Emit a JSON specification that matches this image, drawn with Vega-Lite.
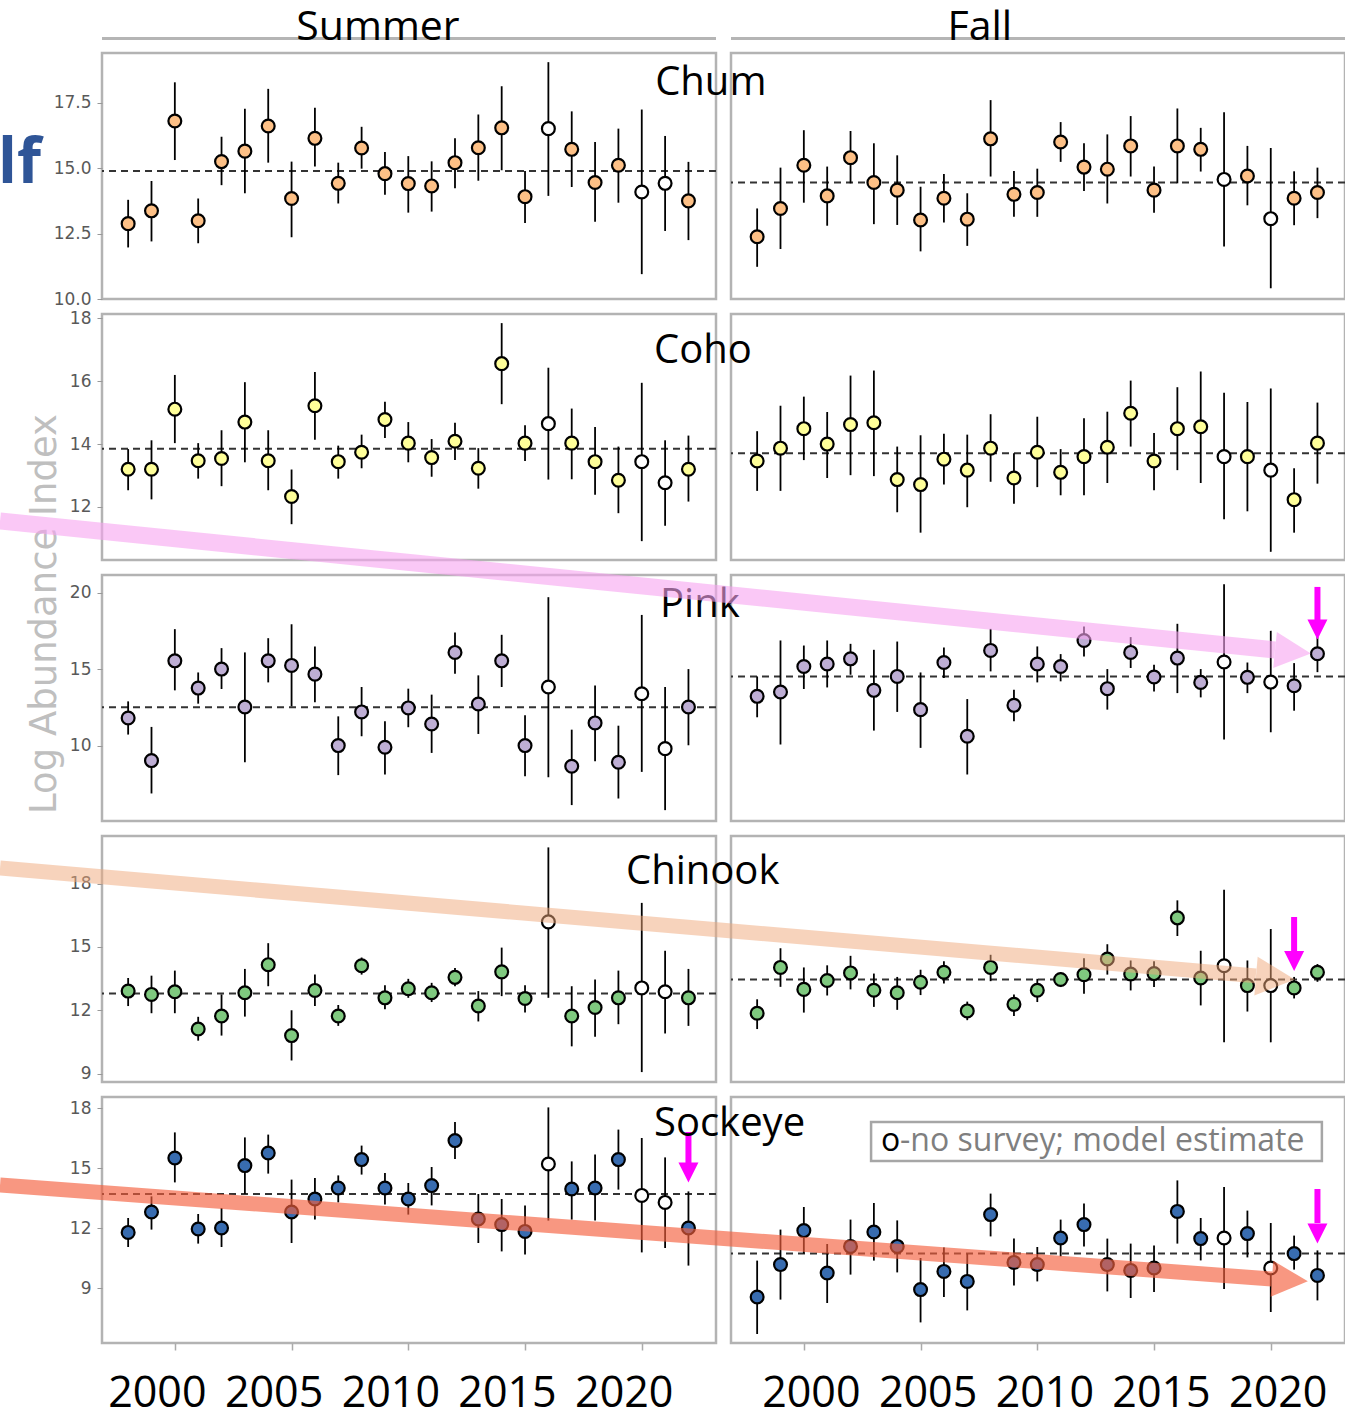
{
"$schema":"https://vega.github.io/schema/vega-lite/v6.json",
"autosize":{"type":"none"},
"padding":{"left":102,"top":53,"right":1243,"bottom":1359},
"background":"white",
"columns":2,
"spacing":{"row":15,"column":15},
"bounds":"flush",
"config":{"view":{"stroke":"#b3b3b3","strokeWidth":2.5},"axis":{"labels":false,"ticks":false,"grid":false,"domain":false,"titleOpacity":0}},
"datasets":{
"one":[{}],
"means":[
{"sp":"Chum","se":"Summer","mean":14.89},{"sp":"Chum","se":"Fall","mean":14.45},
{"sp":"Coho","se":"Summer","mean":13.85},{"sp":"Coho","se":"Fall","mean":13.71},
{"sp":"Pink","se":"Summer","mean":12.50},{"sp":"Pink","se":"Fall","mean":14.52},
{"sp":"Chinook","se":"Summer","mean":12.80},{"sp":"Chinook","se":"Fall","mean":13.46},
{"sp":"Sockeye","se":"Summer","mean":13.70},{"sp":"Sockeye","se":"Fall","mean":10.72}],
"pts":[
{"sp":"Chum","se":"Summer","yr":1998,"v":12.88,"lo":11.97,"hi":13.79,"est":0},
{"sp":"Chum","se":"Summer","yr":1999,"v":13.37,"lo":12.20,"hi":14.51,"est":0},
{"sp":"Chum","se":"Summer","yr":2000,"v":16.80,"lo":15.31,"hi":18.28,"est":0},
{"sp":"Chum","se":"Summer","yr":2001,"v":12.99,"lo":12.13,"hi":13.84,"est":0},
{"sp":"Chum","se":"Summer","yr":2002,"v":15.25,"lo":14.35,"hi":16.20,"est":0},
{"sp":"Chum","se":"Summer","yr":2003,"v":15.65,"lo":14.04,"hi":17.27,"est":0},
{"sp":"Chum","se":"Summer","yr":2004,"v":16.61,"lo":15.21,"hi":18.03,"est":0},
{"sp":"Chum","se":"Summer","yr":2005,"v":13.84,"lo":12.36,"hi":15.25,"est":0},
{"sp":"Chum","se":"Summer","yr":2006,"v":16.14,"lo":15.06,"hi":17.31,"est":0},
{"sp":"Chum","se":"Summer","yr":2007,"v":14.42,"lo":13.65,"hi":15.21,"est":0},
{"sp":"Chum","se":"Summer","yr":2008,"v":15.77,"lo":14.98,"hi":16.58,"est":0},
{"sp":"Chum","se":"Summer","yr":2009,"v":14.79,"lo":13.98,"hi":15.62,"est":0},
{"sp":"Chum","se":"Summer","yr":2010,"v":14.41,"lo":13.30,"hi":15.46,"est":0},
{"sp":"Chum","se":"Summer","yr":2011,"v":14.32,"lo":13.34,"hi":15.26,"est":0},
{"sp":"Chum","se":"Summer","yr":2012,"v":15.21,"lo":14.23,"hi":16.14,"est":0},
{"sp":"Chum","se":"Summer","yr":2013,"v":15.78,"lo":14.52,"hi":17.05,"est":0},
{"sp":"Chum","se":"Summer","yr":2014,"v":16.54,"lo":14.92,"hi":18.13,"est":0},
{"sp":"Chum","se":"Summer","yr":2015,"v":13.91,"lo":12.90,"hi":14.89,"est":0},
{"sp":"Chum","se":"Summer","yr":2016,"v":16.51,"lo":13.94,"hi":19.05,"est":1},
{"sp":"Chum","se":"Summer","yr":2017,"v":15.72,"lo":14.28,"hi":17.17,"est":0},
{"sp":"Chum","se":"Summer","yr":2018,"v":14.45,"lo":12.95,"hi":16.00,"est":0},
{"sp":"Chum","se":"Summer","yr":2019,"v":15.11,"lo":13.68,"hi":16.51,"est":0},
{"sp":"Chum","se":"Summer","yr":2020,"v":14.09,"lo":10.95,"hi":17.24,"est":1},
{"sp":"Chum","se":"Summer","yr":2021,"v":14.42,"lo":12.60,"hi":16.23,"est":1},
{"sp":"Chum","se":"Summer","yr":2022,"v":13.75,"lo":12.25,"hi":15.24,"est":0},
{"sp":"Chum","se":"Fall","yr":1998,"v":12.38,"lo":11.23,"hi":13.46,"est":0},
{"sp":"Chum","se":"Fall","yr":1999,"v":13.46,"lo":11.91,"hi":15.02,"est":0},
{"sp":"Chum","se":"Fall","yr":2000,"v":15.11,"lo":13.68,"hi":16.45,"est":0},
{"sp":"Chum","se":"Fall","yr":2001,"v":13.94,"lo":12.80,"hi":15.06,"est":0},
{"sp":"Chum","se":"Fall","yr":2002,"v":15.40,"lo":14.42,"hi":16.42,"est":0},
{"sp":"Chum","se":"Fall","yr":2003,"v":14.45,"lo":12.86,"hi":15.95,"est":0},
{"sp":"Chum","se":"Fall","yr":2004,"v":14.16,"lo":12.83,"hi":15.49,"est":0},
{"sp":"Chum","se":"Fall","yr":2005,"v":13.02,"lo":11.82,"hi":14.29,"est":0},
{"sp":"Chum","se":"Fall","yr":2006,"v":13.85,"lo":12.92,"hi":14.78,"est":0},
{"sp":"Chum","se":"Fall","yr":2007,"v":13.05,"lo":12.03,"hi":14.04,"est":0},
{"sp":"Chum","se":"Fall","yr":2008,"v":16.12,"lo":14.68,"hi":17.60,"est":0},
{"sp":"Chum","se":"Fall","yr":2009,"v":14.00,"lo":13.14,"hi":14.89,"est":0},
{"sp":"Chum","se":"Fall","yr":2010,"v":14.07,"lo":13.14,"hi":14.98,"est":0},
{"sp":"Chum","se":"Fall","yr":2011,"v":16.00,"lo":15.24,"hi":16.76,"est":0},
{"sp":"Chum","se":"Fall","yr":2012,"v":15.04,"lo":14.13,"hi":15.95,"est":0},
{"sp":"Chum","se":"Fall","yr":2013,"v":14.96,"lo":13.65,"hi":16.29,"est":0},
{"sp":"Chum","se":"Fall","yr":2014,"v":15.85,"lo":14.68,"hi":16.99,"est":0},
{"sp":"Chum","se":"Fall","yr":2015,"v":14.16,"lo":13.30,"hi":15.06,"est":0},
{"sp":"Chum","se":"Fall","yr":2016,"v":15.85,"lo":14.42,"hi":17.28,"est":0},
{"sp":"Chum","se":"Fall","yr":2017,"v":15.72,"lo":14.87,"hi":16.54,"est":0},
{"sp":"Chum","se":"Fall","yr":2018,"v":14.57,"lo":12.01,"hi":17.14,"est":1},
{"sp":"Chum","se":"Fall","yr":2019,"v":14.70,"lo":13.58,"hi":15.85,"est":0},
{"sp":"Chum","se":"Fall","yr":2020,"v":13.07,"lo":10.41,"hi":15.77,"est":1},
{"sp":"Chum","se":"Fall","yr":2021,"v":13.85,"lo":12.82,"hi":14.88,"est":0},
{"sp":"Chum","se":"Fall","yr":2022,"v":14.07,"lo":13.09,"hi":15.02,"est":0},
{"sp":"Coho","se":"Summer","yr":1998,"v":13.20,"lo":12.53,"hi":13.84,"est":0},
{"sp":"Coho","se":"Summer","yr":1999,"v":13.20,"lo":12.24,"hi":14.12,"est":0},
{"sp":"Coho","se":"Summer","yr":2000,"v":15.11,"lo":14.03,"hi":16.20,"est":0},
{"sp":"Coho","se":"Summer","yr":2001,"v":13.47,"lo":12.90,"hi":14.03,"est":0},
{"sp":"Coho","se":"Summer","yr":2002,"v":13.54,"lo":12.66,"hi":14.44,"est":0},
{"sp":"Coho","se":"Summer","yr":2003,"v":14.70,"lo":13.42,"hi":15.97,"est":0},
{"sp":"Coho","se":"Summer","yr":2004,"v":13.47,"lo":12.53,"hi":14.44,"est":0},
{"sp":"Coho","se":"Summer","yr":2005,"v":12.33,"lo":11.45,"hi":13.19,"est":0},
{"sp":"Coho","se":"Summer","yr":2006,"v":15.22,"lo":14.14,"hi":16.29,"est":0},
{"sp":"Coho","se":"Summer","yr":2007,"v":13.44,"lo":12.90,"hi":13.95,"est":0},
{"sp":"Coho","se":"Summer","yr":2008,"v":13.74,"lo":13.23,"hi":14.30,"est":0},
{"sp":"Coho","se":"Summer","yr":2009,"v":14.78,"lo":14.19,"hi":15.35,"est":0},
{"sp":"Coho","se":"Summer","yr":2010,"v":14.03,"lo":13.42,"hi":14.70,"est":0},
{"sp":"Coho","se":"Summer","yr":2011,"v":13.57,"lo":12.96,"hi":14.16,"est":0},
{"sp":"Coho","se":"Summer","yr":2012,"v":14.09,"lo":13.49,"hi":14.68,"est":0},
{"sp":"Coho","se":"Summer","yr":2013,"v":13.23,"lo":12.58,"hi":13.87,"est":0},
{"sp":"Coho","se":"Summer","yr":2014,"v":16.56,"lo":15.27,"hi":17.85,"est":0},
{"sp":"Coho","se":"Summer","yr":2015,"v":14.03,"lo":13.46,"hi":14.60,"est":0},
{"sp":"Coho","se":"Summer","yr":2016,"v":14.65,"lo":12.87,"hi":16.43,"est":1},
{"sp":"Coho","se":"Summer","yr":2017,"v":14.03,"lo":12.88,"hi":15.13,"est":0},
{"sp":"Coho","se":"Summer","yr":2018,"v":13.44,"lo":12.39,"hi":14.54,"est":0},
{"sp":"Coho","se":"Summer","yr":2019,"v":12.85,"lo":11.80,"hi":13.92,"est":0},
{"sp":"Coho","se":"Summer","yr":2020,"v":13.44,"lo":10.91,"hi":15.95,"est":1},
{"sp":"Coho","se":"Summer","yr":2021,"v":12.77,"lo":11.40,"hi":14.12,"est":1},
{"sp":"Coho","se":"Summer","yr":2022,"v":13.20,"lo":12.17,"hi":14.27,"est":0},
{"sp":"Coho","se":"Fall","yr":1998,"v":13.46,"lo":12.51,"hi":14.41,"est":0},
{"sp":"Coho","se":"Fall","yr":1999,"v":13.87,"lo":12.51,"hi":15.22,"est":0},
{"sp":"Coho","se":"Fall","yr":2000,"v":14.49,"lo":13.49,"hi":15.51,"est":0},
{"sp":"Coho","se":"Fall","yr":2001,"v":14.00,"lo":12.92,"hi":15.02,"est":0},
{"sp":"Coho","se":"Fall","yr":2002,"v":14.62,"lo":13.01,"hi":16.18,"est":0},
{"sp":"Coho","se":"Fall","yr":2003,"v":14.68,"lo":12.98,"hi":16.34,"est":0},
{"sp":"Coho","se":"Fall","yr":2004,"v":12.87,"lo":11.83,"hi":13.92,"est":0},
{"sp":"Coho","se":"Fall","yr":2005,"v":12.71,"lo":11.18,"hi":14.28,"est":0},
{"sp":"Coho","se":"Fall","yr":2006,"v":13.52,"lo":12.71,"hi":14.33,"est":0},
{"sp":"Coho","se":"Fall","yr":2007,"v":13.17,"lo":11.99,"hi":14.30,"est":0},
{"sp":"Coho","se":"Fall","yr":2008,"v":13.87,"lo":12.80,"hi":14.95,"est":0},
{"sp":"Coho","se":"Fall","yr":2009,"v":12.92,"lo":12.10,"hi":13.71,"est":0},
{"sp":"Coho","se":"Fall","yr":2010,"v":13.74,"lo":12.63,"hi":14.87,"est":0},
{"sp":"Coho","se":"Fall","yr":2011,"v":13.10,"lo":12.37,"hi":13.84,"est":0},
{"sp":"Coho","se":"Fall","yr":2012,"v":13.60,"lo":12.37,"hi":14.82,"est":0},
{"sp":"Coho","se":"Fall","yr":2013,"v":13.90,"lo":12.76,"hi":15.03,"est":0},
{"sp":"Coho","se":"Fall","yr":2014,"v":14.98,"lo":13.92,"hi":16.02,"est":0},
{"sp":"Coho","se":"Fall","yr":2015,"v":13.46,"lo":12.53,"hi":14.35,"est":0},
{"sp":"Coho","se":"Fall","yr":2016,"v":14.49,"lo":13.17,"hi":15.81,"est":0},
{"sp":"Coho","se":"Fall","yr":2017,"v":14.55,"lo":12.76,"hi":16.31,"est":0},
{"sp":"Coho","se":"Fall","yr":2018,"v":13.60,"lo":11.61,"hi":15.63,"est":1},
{"sp":"Coho","se":"Fall","yr":2019,"v":13.60,"lo":11.86,"hi":15.34,"est":0},
{"sp":"Coho","se":"Fall","yr":2020,"v":13.17,"lo":10.57,"hi":15.77,"est":1},
{"sp":"Coho","se":"Fall","yr":2021,"v":12.23,"lo":11.18,"hi":13.23,"est":0},
{"sp":"Coho","se":"Fall","yr":2022,"v":14.03,"lo":12.74,"hi":15.32,"est":0},
{"sp":"Pink","se":"Summer","yr":1998,"v":11.80,"lo":10.72,"hi":12.89,"est":0},
{"sp":"Pink","se":"Summer","yr":1999,"v":9.02,"lo":6.87,"hi":11.22,"est":0},
{"sp":"Pink","se":"Summer","yr":2000,"v":15.54,"lo":13.61,"hi":17.61,"est":0},
{"sp":"Pink","se":"Summer","yr":2001,"v":13.76,"lo":12.74,"hi":14.78,"est":0},
{"sp":"Pink","se":"Summer","yr":2002,"v":15.00,"lo":13.70,"hi":16.37,"est":0},
{"sp":"Pink","se":"Summer","yr":2003,"v":12.52,"lo":8.91,"hi":16.09,"est":0},
{"sp":"Pink","se":"Summer","yr":2004,"v":15.54,"lo":14.13,"hi":17.02,"est":0},
{"sp":"Pink","se":"Summer","yr":2005,"v":15.24,"lo":12.57,"hi":17.93,"est":0},
{"sp":"Pink","se":"Summer","yr":2006,"v":14.67,"lo":12.83,"hi":16.48,"est":0},
{"sp":"Pink","se":"Summer","yr":2007,"v":10.00,"lo":8.07,"hi":11.91,"est":0},
{"sp":"Pink","se":"Summer","yr":2008,"v":12.20,"lo":10.61,"hi":13.83,"est":0},
{"sp":"Pink","se":"Summer","yr":2009,"v":9.89,"lo":8.11,"hi":11.59,"est":0},
{"sp":"Pink","se":"Summer","yr":2010,"v":12.46,"lo":11.20,"hi":13.72,"est":0},
{"sp":"Pink","se":"Summer","yr":2011,"v":11.41,"lo":9.52,"hi":13.33,"est":0},
{"sp":"Pink","se":"Summer","yr":2012,"v":16.09,"lo":14.70,"hi":17.39,"est":0},
{"sp":"Pink","se":"Summer","yr":2013,"v":12.72,"lo":10.76,"hi":14.59,"est":0},
{"sp":"Pink","se":"Summer","yr":2014,"v":15.54,"lo":13.83,"hi":17.24,"est":0},
{"sp":"Pink","se":"Summer","yr":2015,"v":10.00,"lo":8.00,"hi":11.98,"est":0},
{"sp":"Pink","se":"Summer","yr":2016,"v":13.83,"lo":7.93,"hi":19.70,"est":1},
{"sp":"Pink","se":"Summer","yr":2017,"v":8.65,"lo":6.11,"hi":11.04,"est":0},
{"sp":"Pink","se":"Summer","yr":2018,"v":11.48,"lo":8.98,"hi":13.93,"est":0},
{"sp":"Pink","se":"Summer","yr":2019,"v":8.91,"lo":6.54,"hi":11.30,"est":0},
{"sp":"Pink","se":"Summer","yr":2020,"v":13.39,"lo":8.28,"hi":18.54,"est":1},
{"sp":"Pink","se":"Summer","yr":2021,"v":9.80,"lo":5.78,"hi":13.83,"est":1},
{"sp":"Pink","se":"Summer","yr":2022,"v":12.52,"lo":10.02,"hi":15.00,"est":0},
{"sp":"Pink","se":"Fall","yr":1998,"v":13.22,"lo":11.85,"hi":14.52,"est":0},
{"sp":"Pink","se":"Fall","yr":1999,"v":13.50,"lo":10.07,"hi":16.87,"est":0},
{"sp":"Pink","se":"Fall","yr":2000,"v":15.17,"lo":13.70,"hi":16.54,"est":0},
{"sp":"Pink","se":"Fall","yr":2001,"v":15.33,"lo":13.80,"hi":16.87,"est":0},
{"sp":"Pink","se":"Fall","yr":2002,"v":15.67,"lo":14.63,"hi":16.65,"est":0},
{"sp":"Pink","se":"Fall","yr":2003,"v":13.61,"lo":10.98,"hi":16.26,"est":0},
{"sp":"Pink","se":"Fall","yr":2004,"v":14.52,"lo":12.20,"hi":16.80,"est":0},
{"sp":"Pink","se":"Fall","yr":2005,"v":12.35,"lo":9.85,"hi":14.78,"est":0},
{"sp":"Pink","se":"Fall","yr":2006,"v":15.43,"lo":14.41,"hi":16.41,"est":0},
{"sp":"Pink","se":"Fall","yr":2007,"v":10.61,"lo":8.11,"hi":13.04,"est":0},
{"sp":"Pink","se":"Fall","yr":2008,"v":16.22,"lo":14.85,"hi":17.63,"est":0},
{"sp":"Pink","se":"Fall","yr":2009,"v":12.63,"lo":11.59,"hi":13.65,"est":0},
{"sp":"Pink","se":"Fall","yr":2010,"v":15.33,"lo":14.13,"hi":16.48,"est":0},
{"sp":"Pink","se":"Fall","yr":2011,"v":15.17,"lo":14.20,"hi":15.98,"est":0},
{"sp":"Pink","se":"Fall","yr":2012,"v":16.87,"lo":15.83,"hi":17.78,"est":0},
{"sp":"Pink","se":"Fall","yr":2013,"v":13.72,"lo":12.35,"hi":15.00,"est":0},
{"sp":"Pink","se":"Fall","yr":2014,"v":16.09,"lo":15.07,"hi":17.09,"est":0},
{"sp":"Pink","se":"Fall","yr":2015,"v":14.48,"lo":13.54,"hi":15.28,"est":0},
{"sp":"Pink","se":"Fall","yr":2016,"v":15.72,"lo":13.43,"hi":17.96,"est":0},
{"sp":"Pink","se":"Fall","yr":2017,"v":14.13,"lo":13.15,"hi":15.00,"est":0},
{"sp":"Pink","se":"Fall","yr":2018,"v":15.46,"lo":10.39,"hi":20.54,"est":1},
{"sp":"Pink","se":"Fall","yr":2019,"v":14.46,"lo":13.43,"hi":15.43,"est":0},
{"sp":"Pink","se":"Fall","yr":2020,"v":14.15,"lo":10.87,"hi":17.50,"est":1},
{"sp":"Pink","se":"Fall","yr":2021,"v":13.91,"lo":12.28,"hi":15.39,"est":0},
{"sp":"Pink","se":"Fall","yr":2022,"v":16.00,"lo":14.80,"hi":17.13,"est":0},
{"sp":"Chinook","se":"Summer","yr":1998,"v":12.91,"lo":12.20,"hi":13.53,"est":0},
{"sp":"Chinook","se":"Summer","yr":1999,"v":12.75,"lo":11.86,"hi":13.64,"est":0},
{"sp":"Chinook","se":"Summer","yr":2000,"v":12.88,"lo":11.86,"hi":13.88,"est":0},
{"sp":"Chinook","se":"Summer","yr":2001,"v":11.11,"lo":10.56,"hi":11.69,"est":0},
{"sp":"Chinook","se":"Summer","yr":2002,"v":11.73,"lo":10.80,"hi":12.75,"est":0},
{"sp":"Chinook","se":"Summer","yr":2003,"v":12.83,"lo":11.70,"hi":13.96,"est":0},
{"sp":"Chinook","se":"Summer","yr":2004,"v":14.16,"lo":13.14,"hi":15.18,"est":0},
{"sp":"Chinook","se":"Summer","yr":2005,"v":10.80,"lo":9.62,"hi":12.00,"est":0},
{"sp":"Chinook","se":"Summer","yr":2006,"v":12.94,"lo":12.20,"hi":13.69,"est":0},
{"sp":"Chinook","se":"Summer","yr":2007,"v":11.73,"lo":11.26,"hi":12.25,"est":0},
{"sp":"Chinook","se":"Summer","yr":2008,"v":14.11,"lo":13.69,"hi":14.50,"est":0},
{"sp":"Chinook","se":"Summer","yr":2009,"v":12.59,"lo":12.05,"hi":13.19,"est":0},
{"sp":"Chinook","se":"Summer","yr":2010,"v":13.02,"lo":12.59,"hi":13.49,"est":0},
{"sp":"Chinook","se":"Summer","yr":2011,"v":12.83,"lo":12.39,"hi":13.30,"est":0},
{"sp":"Chinook","se":"Summer","yr":2012,"v":13.56,"lo":13.14,"hi":14.00,"est":0},
{"sp":"Chinook","se":"Summer","yr":2013,"v":12.20,"lo":11.47,"hi":12.91,"est":0},
{"sp":"Chinook","se":"Summer","yr":2014,"v":13.82,"lo":12.67,"hi":14.97,"est":0},
{"sp":"Chinook","se":"Summer","yr":2015,"v":12.56,"lo":11.89,"hi":13.19,"est":0},
{"sp":"Chinook","se":"Summer","yr":2016,"v":16.19,"lo":12.59,"hi":19.72,"est":1},
{"sp":"Chinook","se":"Summer","yr":2017,"v":11.73,"lo":10.29,"hi":13.14,"est":0},
{"sp":"Chinook","se":"Summer","yr":2018,"v":12.13,"lo":10.75,"hi":13.46,"est":0},
{"sp":"Chinook","se":"Summer","yr":2019,"v":12.59,"lo":11.34,"hi":13.88,"est":0},
{"sp":"Chinook","se":"Summer","yr":2020,"v":13.06,"lo":9.07,"hi":17.09,"est":1},
{"sp":"Chinook","se":"Summer","yr":2021,"v":12.88,"lo":10.90,"hi":14.82,"est":1},
{"sp":"Chinook","se":"Summer","yr":2022,"v":12.59,"lo":11.26,"hi":13.96,"est":0},
{"sp":"Chinook","se":"Fall","yr":1998,"v":11.86,"lo":11.11,"hi":12.52,"est":0},
{"sp":"Chinook","se":"Fall","yr":1999,"v":14.03,"lo":13.11,"hi":14.94,"est":0},
{"sp":"Chinook","se":"Fall","yr":2000,"v":12.99,"lo":11.89,"hi":14.03,"est":0},
{"sp":"Chinook","se":"Fall","yr":2001,"v":13.41,"lo":12.70,"hi":14.13,"est":0},
{"sp":"Chinook","se":"Fall","yr":2002,"v":13.77,"lo":12.99,"hi":14.58,"est":0},
{"sp":"Chinook","se":"Fall","yr":2003,"v":12.95,"lo":12.16,"hi":13.74,"est":0},
{"sp":"Chinook","se":"Fall","yr":2004,"v":12.83,"lo":12.02,"hi":13.58,"est":0},
{"sp":"Chinook","se":"Fall","yr":2005,"v":13.33,"lo":12.72,"hi":13.92,"est":0},
{"sp":"Chinook","se":"Fall","yr":2006,"v":13.80,"lo":13.27,"hi":14.32,"est":0},
{"sp":"Chinook","se":"Fall","yr":2007,"v":11.97,"lo":11.53,"hi":12.41,"est":0},
{"sp":"Chinook","se":"Fall","yr":2008,"v":14.03,"lo":13.38,"hi":14.63,"est":0},
{"sp":"Chinook","se":"Fall","yr":2009,"v":12.28,"lo":11.73,"hi":12.75,"est":0},
{"sp":"Chinook","se":"Fall","yr":2010,"v":12.95,"lo":12.39,"hi":13.49,"est":0},
{"sp":"Chinook","se":"Fall","yr":2011,"v":13.46,"lo":13.10,"hi":13.80,"est":0},
{"sp":"Chinook","se":"Fall","yr":2012,"v":13.69,"lo":12.78,"hi":14.47,"est":0},
{"sp":"Chinook","se":"Fall","yr":2013,"v":14.43,"lo":13.69,"hi":15.13,"est":0},
{"sp":"Chinook","se":"Fall","yr":2014,"v":13.72,"lo":12.94,"hi":14.36,"est":0},
{"sp":"Chinook","se":"Fall","yr":2015,"v":13.74,"lo":13.10,"hi":14.32,"est":0},
{"sp":"Chinook","se":"Fall","yr":2016,"v":16.38,"lo":15.52,"hi":17.21,"est":0},
{"sp":"Chinook","se":"Fall","yr":2017,"v":13.53,"lo":12.23,"hi":14.82,"est":0},
{"sp":"Chinook","se":"Fall","yr":2018,"v":14.11,"lo":10.48,"hi":17.71,"est":1},
{"sp":"Chinook","se":"Fall","yr":2019,"v":13.17,"lo":11.94,"hi":14.36,"est":0},
{"sp":"Chinook","se":"Fall","yr":2020,"v":13.17,"lo":10.48,"hi":15.85,"est":1},
{"sp":"Chinook","se":"Fall","yr":2021,"v":13.06,"lo":12.56,"hi":13.58,"est":0},
{"sp":"Chinook","se":"Fall","yr":2022,"v":13.80,"lo":13.35,"hi":14.19,"est":0},
{"sp":"Sockeye","se":"Summer","yr":1998,"v":11.78,"lo":11.05,"hi":12.50,"est":0},
{"sp":"Sockeye","se":"Summer","yr":1999,"v":12.80,"lo":11.92,"hi":13.58,"est":0},
{"sp":"Sockeye","se":"Summer","yr":2000,"v":15.50,"lo":14.28,"hi":16.78,"est":0},
{"sp":"Sockeye","se":"Summer","yr":2001,"v":11.95,"lo":11.22,"hi":12.70,"est":0},
{"sp":"Sockeye","se":"Summer","yr":2002,"v":12.00,"lo":11.05,"hi":13.00,"est":0},
{"sp":"Sockeye","se":"Summer","yr":2003,"v":15.12,"lo":13.70,"hi":16.53,"est":0},
{"sp":"Sockeye","se":"Summer","yr":2004,"v":15.75,"lo":14.72,"hi":16.67,"est":0},
{"sp":"Sockeye","se":"Summer","yr":2005,"v":12.80,"lo":11.25,"hi":14.42,"est":0},
{"sp":"Sockeye","se":"Summer","yr":2006,"v":13.45,"lo":12.42,"hi":14.50,"est":0},
{"sp":"Sockeye","se":"Summer","yr":2007,"v":14.00,"lo":13.28,"hi":14.63,"est":0},
{"sp":"Sockeye","se":"Summer","yr":2008,"v":15.42,"lo":14.67,"hi":16.12,"est":0},
{"sp":"Sockeye","se":"Summer","yr":2009,"v":14.00,"lo":13.17,"hi":14.75,"est":0},
{"sp":"Sockeye","se":"Summer","yr":2010,"v":13.45,"lo":12.67,"hi":14.25,"est":0},
{"sp":"Sockeye","se":"Summer","yr":2011,"v":14.12,"lo":13.13,"hi":15.05,"est":0},
{"sp":"Sockeye","se":"Summer","yr":2012,"v":16.37,"lo":15.45,"hi":17.30,"est":0},
{"sp":"Sockeye","se":"Summer","yr":2013,"v":12.45,"lo":11.25,"hi":13.70,"est":0},
{"sp":"Sockeye","se":"Summer","yr":2014,"v":12.17,"lo":10.83,"hi":13.45,"est":0},
{"sp":"Sockeye","se":"Summer","yr":2015,"v":11.83,"lo":10.67,"hi":13.13,"est":0},
{"sp":"Sockeye","se":"Summer","yr":2016,"v":15.20,"lo":12.37,"hi":18.03,"est":1},
{"sp":"Sockeye","se":"Summer","yr":2017,"v":13.95,"lo":12.42,"hi":15.33,"est":0},
{"sp":"Sockeye","se":"Summer","yr":2018,"v":14.00,"lo":12.38,"hi":15.67,"est":0},
{"sp":"Sockeye","se":"Summer","yr":2019,"v":15.42,"lo":13.92,"hi":16.92,"est":0},
{"sp":"Sockeye","se":"Summer","yr":2020,"v":13.63,"lo":10.78,"hi":16.50,"est":1},
{"sp":"Sockeye","se":"Summer","yr":2021,"v":13.28,"lo":11.00,"hi":15.53,"est":1},
{"sp":"Sockeye","se":"Summer","yr":2022,"v":12.00,"lo":10.12,"hi":13.83,"est":0},
{"sp":"Sockeye","se":"Fall","yr":1998,"v":8.55,"lo":6.70,"hi":10.37,"est":0},
{"sp":"Sockeye","se":"Fall","yr":1999,"v":10.17,"lo":8.42,"hi":11.92,"est":0},
{"sp":"Sockeye","se":"Fall","yr":2000,"v":11.87,"lo":10.72,"hi":13.05,"est":0},
{"sp":"Sockeye","se":"Fall","yr":2001,"v":9.75,"lo":8.25,"hi":11.20,"est":0},
{"sp":"Sockeye","se":"Fall","yr":2002,"v":11.08,"lo":9.67,"hi":12.42,"est":0},
{"sp":"Sockeye","se":"Fall","yr":2003,"v":11.80,"lo":10.37,"hi":13.25,"est":0},
{"sp":"Sockeye","se":"Fall","yr":2004,"v":11.08,"lo":9.78,"hi":12.38,"est":0},
{"sp":"Sockeye","se":"Fall","yr":2005,"v":8.92,"lo":7.28,"hi":10.50,"est":0},
{"sp":"Sockeye","se":"Fall","yr":2006,"v":9.83,"lo":8.55,"hi":11.03,"est":0},
{"sp":"Sockeye","se":"Fall","yr":2007,"v":9.33,"lo":7.88,"hi":10.72,"est":0},
{"sp":"Sockeye","se":"Fall","yr":2008,"v":12.67,"lo":11.58,"hi":13.72,"est":0},
{"sp":"Sockeye","se":"Fall","yr":2009,"v":10.28,"lo":9.13,"hi":11.47,"est":0},
{"sp":"Sockeye","se":"Fall","yr":2010,"v":10.17,"lo":9.33,"hi":11.05,"est":0},
{"sp":"Sockeye","se":"Fall","yr":2011,"v":11.50,"lo":10.58,"hi":12.42,"est":0},
{"sp":"Sockeye","se":"Fall","yr":2012,"v":12.17,"lo":11.08,"hi":13.22,"est":0},
{"sp":"Sockeye","se":"Fall","yr":2013,"v":10.17,"lo":8.83,"hi":11.47,"est":0},
{"sp":"Sockeye","se":"Fall","yr":2014,"v":9.88,"lo":8.50,"hi":11.22,"est":0},
{"sp":"Sockeye","se":"Fall","yr":2015,"v":10.00,"lo":8.80,"hi":11.13,"est":0},
{"sp":"Sockeye","se":"Fall","yr":2016,"v":12.83,"lo":11.22,"hi":14.38,"est":0},
{"sp":"Sockeye","se":"Fall","yr":2017,"v":11.47,"lo":10.38,"hi":12.50,"est":0},
{"sp":"Sockeye","se":"Fall","yr":2018,"v":11.50,"lo":8.95,"hi":14.05,"est":1},
{"sp":"Sockeye","se":"Fall","yr":2019,"v":11.72,"lo":10.53,"hi":12.87,"est":0},
{"sp":"Sockeye","se":"Fall","yr":2020,"v":10.00,"lo":7.80,"hi":12.25,"est":1},
{"sp":"Sockeye","se":"Fall","yr":2021,"v":10.72,"lo":9.92,"hi":11.62,"est":0},
{"sp":"Sockeye","se":"Fall","yr":2022,"v":9.63,"lo":8.38,"hi":10.88,"est":0}
]},
"concat":[
{"width":614,"height":246,
 "layer":[
  {"data":{"name":"means"},"transform":[{"filter":"datum.sp=='Chum'&&datum.se=='Summer'"}],"mark":{"type":"rule","strokeDash":[7,5],"strokeWidth":2,"color":"#333333"},"encoding":{"y":{"field":"mean","type":"quantitative","scale":{"domain":[10,19.4],"nice":false,"zero":false},"axis":{"title":null,"labels":true,"ticks":true,"values":[10,12.5,15,17.5],"format":".1f","labelFont":"DejaVu Sans","labelFontSize":17,"labelColor":"#595959","tickColor":"#999999","tickSize":5,"labelPadding":6,"labelFlush":false,"labelOverlap":false,"domain":false,"grid":false}}}},
  {"data":{"name":"pts"},"transform":[{"filter":"datum.sp=='Chum'&&datum.se=='Summer'"}],"mark":{"type":"rule","color":"black","strokeWidth":1.8},"encoding":{"x":{"field":"yr","type":"quantitative","scale":{"domain":[1996.88,2023.18],"nice":false,"zero":false}},"y":{"field":"lo","type":"quantitative"},"y2":{"field":"hi"}}},
  {"data":{"name":"pts"},"transform":[{"filter":"datum.sp=='Chum'&&datum.se=='Summer'"}],"mark":{"type":"point","filled":true,"size":165,"stroke":"black","strokeWidth":2.2,"opacity":1},"encoding":{"x":{"field":"yr","type":"quantitative"},"y":{"field":"v","type":"quantitative"},"fill":{"condition":{"test":"datum.est==1","value":"white"},"field":"sp","type":"nominal","scale":{"domain":["Chum","Coho","Pink","Chinook","Sockeye"],"range":["#fdc086","#ffff99","#beaed4","#7fc97f","#386cb0"]},"legend":null}}},
  {"data":{"name":"one"},"mark":{"type":"rule","color":"#b5b5b5","strokeWidth":3},"encoding":{"x":{"datum":1996.88},"x2":{"datum":2023.18},"y":{"datum":19.95}}},
  {"data":{"name":"one"},"mark":{"type":"text","text":"Summer","font":"Open Sans","fontSize":41,"color":"black","align":"center","baseline":"alphabetic"},"encoding":{"x":{"datum":2008.70},"y":{"datum":19.90}}},
  {"data":{"name":"one"},"mark":{"type":"text","text":"lf","font":"Open Sans","fontWeight":"bold","fontSize":62,"color":"#2f5597","align":"left","baseline":"alphabetic"},"encoding":{"x":{"datum":1992.43},"y":{"datum":14.43}}}
 ]},
{"width":614,"height":246,
 "layer":[
  {"data":{"name":"means"},"transform":[{"filter":"datum.sp=='Chum'&&datum.se=='Fall'"}],"mark":{"type":"rule","strokeDash":[7,5],"strokeWidth":2,"color":"#333333"},"encoding":{"y":{"field":"mean","type":"quantitative","scale":{"domain":[10,19.4],"nice":false,"zero":false}}}},
  {"data":{"name":"pts"},"transform":[{"filter":"datum.sp=='Chum'&&datum.se=='Fall'"}],"mark":{"type":"rule","color":"black","strokeWidth":1.8},"encoding":{"x":{"field":"yr","type":"quantitative","scale":{"domain":[1996.88,2023.18],"nice":false,"zero":false}},"y":{"field":"lo","type":"quantitative"},"y2":{"field":"hi"}}},
  {"data":{"name":"pts"},"transform":[{"filter":"datum.sp=='Chum'&&datum.se=='Fall'"}],"mark":{"type":"point","filled":true,"size":165,"stroke":"black","strokeWidth":2.2,"opacity":1},"encoding":{"x":{"field":"yr","type":"quantitative"},"y":{"field":"v","type":"quantitative"},"fill":{"condition":{"test":"datum.est==1","value":"white"},"field":"sp","type":"nominal","scale":{"domain":["Chum","Coho","Pink","Chinook","Sockeye"],"range":["#fdc086","#ffff99","#beaed4","#7fc97f","#386cb0"]},"legend":null}}},
  {"data":{"name":"one"},"mark":{"type":"rule","color":"#b5b5b5","strokeWidth":3},"encoding":{"x":{"datum":1996.88},"x2":{"datum":2023.18},"y":{"datum":19.95}}},
  {"data":{"name":"one"},"mark":{"type":"text","text":"Fall","font":"Open Sans","fontSize":41,"color":"black","align":"center","baseline":"alphabetic"},"encoding":{"x":{"datum":2007.54},"y":{"datum":19.90}}},
  {"data":{"name":"one"},"mark":{"type":"text","text":"Chum","font":"Open Sans","fontSize":40,"color":"black","align":"left","baseline":"alphabetic"},"encoding":{"x":{"datum":1993.63},"y":{"datum":17.80}}}
 ]},
{"width":614,"height":246,
 "layer":[
  {"data":{"name":"means"},"transform":[{"filter":"datum.sp=='Coho'&&datum.se=='Summer'"}],"mark":{"type":"rule","strokeDash":[7,5],"strokeWidth":2,"color":"#333333"},"encoding":{"y":{"field":"mean","type":"quantitative","scale":{"domain":[10.31,18.14],"nice":false,"zero":false},"axis":{"title":null,"labels":true,"ticks":true,"values":[12,14,16,18],"format":"d","labelFont":"DejaVu Sans","labelFontSize":17,"labelColor":"#595959","tickColor":"#999999","tickSize":5,"labelPadding":6,"labelFlush":false,"labelOverlap":false,"domain":false,"grid":false}}}},
  {"data":{"name":"pts"},"transform":[{"filter":"datum.sp=='Coho'&&datum.se=='Summer'"}],"mark":{"type":"rule","color":"black","strokeWidth":1.8},"encoding":{"x":{"field":"yr","type":"quantitative","scale":{"domain":[1996.88,2023.18],"nice":false,"zero":false}},"y":{"field":"lo","type":"quantitative"},"y2":{"field":"hi"}}},
  {"data":{"name":"pts"},"transform":[{"filter":"datum.sp=='Coho'&&datum.se=='Summer'"}],"mark":{"type":"point","filled":true,"size":165,"stroke":"black","strokeWidth":2.2,"opacity":1},"encoding":{"x":{"field":"yr","type":"quantitative"},"y":{"field":"v","type":"quantitative"},"fill":{"condition":{"test":"datum.est==1","value":"white"},"field":"sp","type":"nominal","scale":{"domain":["Chum","Coho","Pink","Chinook","Sockeye"],"range":["#fdc086","#ffff99","#beaed4","#7fc97f","#386cb0"]},"legend":null}}}
 ]},
{"width":614,"height":246,
 "layer":[
  {"data":{"name":"means"},"transform":[{"filter":"datum.sp=='Coho'&&datum.se=='Fall'"}],"mark":{"type":"rule","strokeDash":[7,5],"strokeWidth":2,"color":"#333333"},"encoding":{"y":{"field":"mean","type":"quantitative","scale":{"domain":[10.31,18.14],"nice":false,"zero":false}}}},
  {"data":{"name":"pts"},"transform":[{"filter":"datum.sp=='Coho'&&datum.se=='Fall'"}],"mark":{"type":"rule","color":"black","strokeWidth":1.8},"encoding":{"x":{"field":"yr","type":"quantitative","scale":{"domain":[1996.88,2023.18],"nice":false,"zero":false}},"y":{"field":"lo","type":"quantitative"},"y2":{"field":"hi"}}},
  {"data":{"name":"pts"},"transform":[{"filter":"datum.sp=='Coho'&&datum.se=='Fall'"}],"mark":{"type":"point","filled":true,"size":165,"stroke":"black","strokeWidth":2.2,"opacity":1},"encoding":{"x":{"field":"yr","type":"quantitative"},"y":{"field":"v","type":"quantitative"},"fill":{"condition":{"test":"datum.est==1","value":"white"},"field":"sp","type":"nominal","scale":{"domain":["Chum","Coho","Pink","Chinook","Sockeye"],"range":["#fdc086","#ffff99","#beaed4","#7fc97f","#386cb0"]},"legend":null}}},
  {"data":{"name":"one"},"mark":{"type":"text","text":"Coho","font":"Open Sans","fontSize":40,"color":"black","align":"left","baseline":"alphabetic"},"encoding":{"x":{"datum":1993.58},"y":{"datum":16.58}}}
 ]},
{"width":614,"height":246,
 "layer":[
  {"data":{"name":"means"},"transform":[{"filter":"datum.sp=='Pink'&&datum.se=='Summer'"}],"mark":{"type":"rule","strokeDash":[7,5],"strokeWidth":2,"color":"#333333"},"encoding":{"y":{"field":"mean","type":"quantitative","scale":{"domain":[5.07,21.15],"nice":false,"zero":false},"axis":{"title":"Log Abundance Index","titleOpacity":1,"titleFont":"DejaVu Sans","titleFontSize":37,"titleFontWeight":"normal","titleColor":"#bfbfbf","titleAngle":270,"titleBaseline":"alphabetic","titleAlign":"center","titleX":-47,"titleY":38.5,"labels":true,"ticks":true,"values":[10,15,20],"format":"d","labelFont":"DejaVu Sans","labelFontSize":17,"labelColor":"#595959","tickColor":"#999999","tickSize":5,"labelPadding":6,"labelFlush":false,"labelOverlap":false,"domain":false,"grid":false}}}},
  {"data":{"name":"pts"},"transform":[{"filter":"datum.sp=='Pink'&&datum.se=='Summer'"}],"mark":{"type":"rule","color":"black","strokeWidth":1.8},"encoding":{"x":{"field":"yr","type":"quantitative","scale":{"domain":[1996.88,2023.18],"nice":false,"zero":false}},"y":{"field":"lo","type":"quantitative"},"y2":{"field":"hi"}}},
  {"data":{"name":"pts"},"transform":[{"filter":"datum.sp=='Pink'&&datum.se=='Summer'"}],"mark":{"type":"point","filled":true,"size":165,"stroke":"black","strokeWidth":2.2,"opacity":1},"encoding":{"x":{"field":"yr","type":"quantitative"},"y":{"field":"v","type":"quantitative"},"fill":{"condition":{"test":"datum.est==1","value":"white"},"field":"sp","type":"nominal","scale":{"domain":["Chum","Coho","Pink","Chinook","Sockeye"],"range":["#fdc086","#ffff99","#beaed4","#7fc97f","#386cb0"]},"legend":null}}}
 ]},
{"width":614,"height":246,
 "layer":[
  {"data":{"name":"means"},"transform":[{"filter":"datum.sp=='Pink'&&datum.se=='Fall'"}],"mark":{"type":"rule","strokeDash":[7,5],"strokeWidth":2,"color":"#333333"},"encoding":{"y":{"field":"mean","type":"quantitative","scale":{"domain":[5.07,21.15],"nice":false,"zero":false}}}},
  {"data":{"name":"pts"},"transform":[{"filter":"datum.sp=='Pink'&&datum.se=='Fall'"}],"mark":{"type":"rule","color":"black","strokeWidth":1.8},"encoding":{"x":{"field":"yr","type":"quantitative","scale":{"domain":[1996.88,2023.18],"nice":false,"zero":false}},"y":{"field":"lo","type":"quantitative"},"y2":{"field":"hi"}}},
  {"data":{"name":"pts"},"transform":[{"filter":"datum.sp=='Pink'&&datum.se=='Fall'"}],"mark":{"type":"point","filled":true,"size":165,"stroke":"black","strokeWidth":2.2,"opacity":1},"encoding":{"x":{"field":"yr","type":"quantitative"},"y":{"field":"v","type":"quantitative"},"fill":{"condition":{"test":"datum.est==1","value":"white"},"field":"sp","type":"nominal","scale":{"domain":["Chum","Coho","Pink","Chinook","Sockeye"],"range":["#fdc086","#ffff99","#beaed4","#7fc97f","#386cb0"]},"legend":null}}},
  {"data":{"name":"one"},"mark":{"type":"text","text":"Pink","font":"Open Sans","fontSize":40,"color":"black","align":"left","baseline":"alphabetic"},"encoding":{"x":{"datum":1993.84},"y":{"datum":18.40}}},
  {"data":{"name":"one"},"mark":{"type":"rule","color":"#ff00ff","strokeWidth":6,"strokeCap":"butt"},"encoding":{"x":{"datum":2022},"y":{"datum":20.37},"y2":{"datum":18.08}}},
  {"data":{"name":"one"},"mark":{"type":"point","shape":"M-1,-1L1,-1L0,1Z","size":400,"filled":true,"fill":"#ff00ff","strokeWidth":0,"opacity":1},"encoding":{"x":{"datum":2022},"y":{"datum":17.59}}},
  {"data":{"name":"one"},"mark":{"type":"rule","color":"#f7a3f0","opacity":0.6,"strokeWidth":17,"strokeCap":"butt"},"encoding":{"x":{"datum":1965.57},"x2":{"datum":2020.18},"y":{"datum":24.68},"y2":{"datum":16.25}}},
  {"data":{"name":"one"},"mark":{"type":"point","shape":"M-1,-1L1,0L-1,1Z","size":1296,"angle":5.8,"filled":true,"fill":"#f7a3f0","opacity":0.6,"strokeWidth":0},"encoding":{"x":{"datum":2020.95},"y":{"datum":16.13}}}
 ]},
{"width":614,"height":246,
 "layer":[
  {"data":{"name":"means"},"transform":[{"filter":"datum.sp=='Chinook'&&datum.se=='Summer'"}],"mark":{"type":"rule","strokeDash":[7,5],"strokeWidth":2,"color":"#333333"},"encoding":{"y":{"field":"mean","type":"quantitative","scale":{"domain":[8.6,20.26],"nice":false,"zero":false},"axis":{"title":null,"labels":true,"ticks":true,"values":[9,12,15,18],"format":"d","labelFont":"DejaVu Sans","labelFontSize":17,"labelColor":"#595959","tickColor":"#999999","tickSize":5,"labelPadding":6,"labelFlush":false,"labelOverlap":false,"domain":false,"grid":false}}}},
  {"data":{"name":"pts"},"transform":[{"filter":"datum.sp=='Chinook'&&datum.se=='Summer'"}],"mark":{"type":"rule","color":"black","strokeWidth":1.8},"encoding":{"x":{"field":"yr","type":"quantitative","scale":{"domain":[1996.88,2023.18],"nice":false,"zero":false}},"y":{"field":"lo","type":"quantitative"},"y2":{"field":"hi"}}},
  {"data":{"name":"pts"},"transform":[{"filter":"datum.sp=='Chinook'&&datum.se=='Summer'"}],"mark":{"type":"point","filled":true,"size":165,"stroke":"black","strokeWidth":2.2,"opacity":1},"encoding":{"x":{"field":"yr","type":"quantitative"},"y":{"field":"v","type":"quantitative"},"fill":{"condition":{"test":"datum.est==1","value":"white"},"field":"sp","type":"nominal","scale":{"domain":["Chum","Coho","Pink","Chinook","Sockeye"],"range":["#fdc086","#ffff99","#beaed4","#7fc97f","#386cb0"]},"legend":null}}}
 ]},
{"width":614,"height":246,
 "layer":[
  {"data":{"name":"means"},"transform":[{"filter":"datum.sp=='Chinook'&&datum.se=='Fall'"}],"mark":{"type":"rule","strokeDash":[7,5],"strokeWidth":2,"color":"#333333"},"encoding":{"y":{"field":"mean","type":"quantitative","scale":{"domain":[8.6,20.26],"nice":false,"zero":false}}}},
  {"data":{"name":"pts"},"transform":[{"filter":"datum.sp=='Chinook'&&datum.se=='Fall'"}],"mark":{"type":"rule","color":"black","strokeWidth":1.8},"encoding":{"x":{"field":"yr","type":"quantitative","scale":{"domain":[1996.88,2023.18],"nice":false,"zero":false}},"y":{"field":"lo","type":"quantitative"},"y2":{"field":"hi"}}},
  {"data":{"name":"pts"},"transform":[{"filter":"datum.sp=='Chinook'&&datum.se=='Fall'"}],"mark":{"type":"point","filled":true,"size":165,"stroke":"black","strokeWidth":2.2,"opacity":1},"encoding":{"x":{"field":"yr","type":"quantitative"},"y":{"field":"v","type":"quantitative"},"fill":{"condition":{"test":"datum.est==1","value":"white"},"field":"sp","type":"nominal","scale":{"domain":["Chum","Coho","Pink","Chinook","Sockeye"],"range":["#fdc086","#ffff99","#beaed4","#7fc97f","#386cb0"]},"legend":null}}},
  {"data":{"name":"one"},"mark":{"type":"text","text":"Chinook","font":"Open Sans","fontSize":40,"color":"black","align":"left","baseline":"alphabetic"},"encoding":{"x":{"datum":1992.38},"y":{"datum":17.99}}},
  {"data":{"name":"one"},"mark":{"type":"rule","color":"#ff00ff","strokeWidth":6,"strokeCap":"butt"},"encoding":{"x":{"datum":2021},"y":{"datum":16.42},"y2":{"datum":14.81}}},
  {"data":{"name":"one"},"mark":{"type":"point","shape":"M-1,-1L1,-1L0,1Z","size":400,"filled":true,"fill":"#ff00ff","strokeWidth":0,"opacity":1},"encoding":{"x":{"datum":2021},"y":{"datum":14.34}}},
  {"data":{"name":"one"},"mark":{"type":"rule","color":"#f0a77a","opacity":0.5,"strokeWidth":15,"strokeCap":"butt"},"encoding":{"x":{"datum":1965.57},"x2":{"datum":2019.36},"y":{"datum":18.74},"y2":{"datum":13.63}}},
  {"data":{"name":"one"},"mark":{"type":"point","shape":"M-1,-1L1,0L-1,1Z","size":1521,"angle":4.9,"filled":true,"fill":"#f0a77a","opacity":0.5,"strokeWidth":0},"encoding":{"x":{"datum":2020.2},"y":{"datum":13.54}}}
 ]},
{"width":614,"height":246,
 "layer":[
  {"data":{"name":"means"},"transform":[{"filter":"datum.sp=='Sockeye'&&datum.se=='Summer'"}],"mark":{"type":"rule","strokeDash":[7,5],"strokeWidth":2,"color":"#333333"},"encoding":{"y":{"field":"mean","type":"quantitative","scale":{"domain":[6.25,18.55],"nice":false,"zero":false},"axis":{"title":null,"labels":true,"ticks":true,"values":[9,12,15,18],"format":"d","labelFont":"DejaVu Sans","labelFontSize":17,"labelColor":"#595959","tickColor":"#999999","tickSize":5,"labelPadding":6,"labelFlush":false,"labelOverlap":false,"domain":false,"grid":false}}}},
  {"data":{"name":"pts"},"transform":[{"filter":"datum.sp=='Sockeye'&&datum.se=='Summer'"}],"mark":{"type":"rule","color":"black","strokeWidth":1.8},"encoding":{"x":{"field":"yr","type":"quantitative","scale":{"domain":[1996.88,2023.18],"nice":false,"zero":false},"axis":{"title":null,"labels":true,"ticks":true,"values":[2000,2005,2010,2015,2020],"format":"d","labelFont":"Open Sans","labelFontSize":43,"labelColor":"black","tickColor":"#aaaaaa","tickSize":7,"tickWidth":1.5,"labelPadding":22,"labelOffset":-18,"labelFlush":false,"labelOverlap":false,"domain":false,"grid":false}},"y":{"field":"lo","type":"quantitative"},"y2":{"field":"hi"}}},
  {"data":{"name":"pts"},"transform":[{"filter":"datum.sp=='Sockeye'&&datum.se=='Summer'"}],"mark":{"type":"point","filled":true,"size":165,"stroke":"black","strokeWidth":2.2,"opacity":1},"encoding":{"x":{"field":"yr","type":"quantitative"},"y":{"field":"v","type":"quantitative"},"fill":{"condition":{"test":"datum.est==1","value":"white"},"field":"sp","type":"nominal","scale":{"domain":["Chum","Coho","Pink","Chinook","Sockeye"],"range":["#fdc086","#ffff99","#beaed4","#7fc97f","#386cb0"]},"legend":null}}},
  {"data":{"name":"one"},"mark":{"type":"rule","color":"#ff00ff","strokeWidth":6,"strokeCap":"butt"},"encoding":{"x":{"datum":2022},"y":{"datum":16.80},"y2":{"datum":15.20}}},
  {"data":{"name":"one"},"mark":{"type":"point","shape":"M-1,-1L1,-1L0,1Z","size":400,"filled":true,"fill":"#ff00ff","strokeWidth":0,"opacity":1},"encoding":{"x":{"datum":2022},"y":{"datum":14.78}}}
 ]},
{"width":614,"height":246,
 "layer":[
  {"data":{"name":"means"},"transform":[{"filter":"datum.sp=='Sockeye'&&datum.se=='Fall'"}],"mark":{"type":"rule","strokeDash":[7,5],"strokeWidth":2,"color":"#333333"},"encoding":{"y":{"field":"mean","type":"quantitative","scale":{"domain":[6.25,18.55],"nice":false,"zero":false}}}},
  {"data":{"name":"pts"},"transform":[{"filter":"datum.sp=='Sockeye'&&datum.se=='Fall'"}],"mark":{"type":"rule","color":"black","strokeWidth":1.8},"encoding":{"x":{"field":"yr","type":"quantitative","scale":{"domain":[1996.88,2023.18],"nice":false,"zero":false},"axis":{"title":null,"labels":true,"ticks":true,"values":[2000,2005,2010,2015,2020],"format":"d","labelFont":"Open Sans","labelFontSize":43,"labelColor":"black","tickColor":"#aaaaaa","tickSize":7,"tickWidth":1.5,"labelPadding":22,"labelOffset":7,"labelFlush":false,"labelOverlap":false,"domain":false,"grid":false}},"y":{"field":"lo","type":"quantitative"},"y2":{"field":"hi"}}},
  {"data":{"name":"pts"},"transform":[{"filter":"datum.sp=='Sockeye'&&datum.se=='Fall'"}],"mark":{"type":"point","filled":true,"size":165,"stroke":"black","strokeWidth":2.2,"opacity":1},"encoding":{"x":{"field":"yr","type":"quantitative"},"y":{"field":"v","type":"quantitative"},"fill":{"condition":{"test":"datum.est==1","value":"white"},"field":"sp","type":"nominal","scale":{"domain":["Chum","Coho","Pink","Chinook","Sockeye"],"range":["#fdc086","#ffff99","#beaed4","#7fc97f","#386cb0"]},"legend":null}}},
  {"data":{"name":"one"},"mark":{"type":"text","text":"Sockeye","font":"Open Sans","fontSize":40,"color":"black","align":"left","baseline":"alphabetic"},"encoding":{"x":{"datum":1993.58},"y":{"datum":16.60}}},
  {"data":{"name":"one"},"mark":{"type":"rect","fill":"white","stroke":"#a6a6a6","strokeWidth":2.5},"encoding":{"x":{"datum":2002.88},"x2":{"datum":2022.19},"y":{"datum":17.30},"y2":{"datum":15.35}}},
  {"data":{"name":"one"},"mark":{"type":"text","text":"o","font":"Open Sans","fontSize":32,"color":"black","align":"left","baseline":"alphabetic"},"encoding":{"x":{"datum":2003.30},"y":{"datum":15.85}}},
  {"data":{"name":"one"},"mark":{"type":"text","text":"-no survey; model estimate","font":"Open Sans","fontSize":32,"color":"#7f7f7f","align":"left","baseline":"alphabetic"},"encoding":{"x":{"datum":2004.12},"y":{"datum":15.85}}},
  {"data":{"name":"one"},"mark":{"type":"rule","color":"#ff00ff","strokeWidth":6,"strokeCap":"butt"},"encoding":{"x":{"datum":2022},"y":{"datum":13.95},"y2":{"datum":12.25}}},
  {"data":{"name":"one"},"mark":{"type":"point","shape":"M-1,-1L1,-1L0,1Z","size":400,"filled":true,"fill":"#ff00ff","strokeWidth":0,"opacity":1},"encoding":{"x":{"datum":2022},"y":{"datum":11.73}}},
  {"data":{"name":"one"},"mark":{"type":"rule","color":"#f4603e","opacity":0.65,"strokeWidth":15,"strokeCap":"butt"},"encoding":{"x":{"datum":1965.57},"x2":{"datum":2020.05},"y":{"datum":14.15},"y2":{"datum":9.45}}},
  {"data":{"name":"one"},"mark":{"type":"point","shape":"M-1,-1L1,0L-1,1Z","size":1296,"angle":4.2,"filled":true,"fill":"#f4603e","opacity":0.65,"strokeWidth":0},"encoding":{"x":{"datum":2020.82},"y":{"datum":9.40}}}
 ]}
]
}
